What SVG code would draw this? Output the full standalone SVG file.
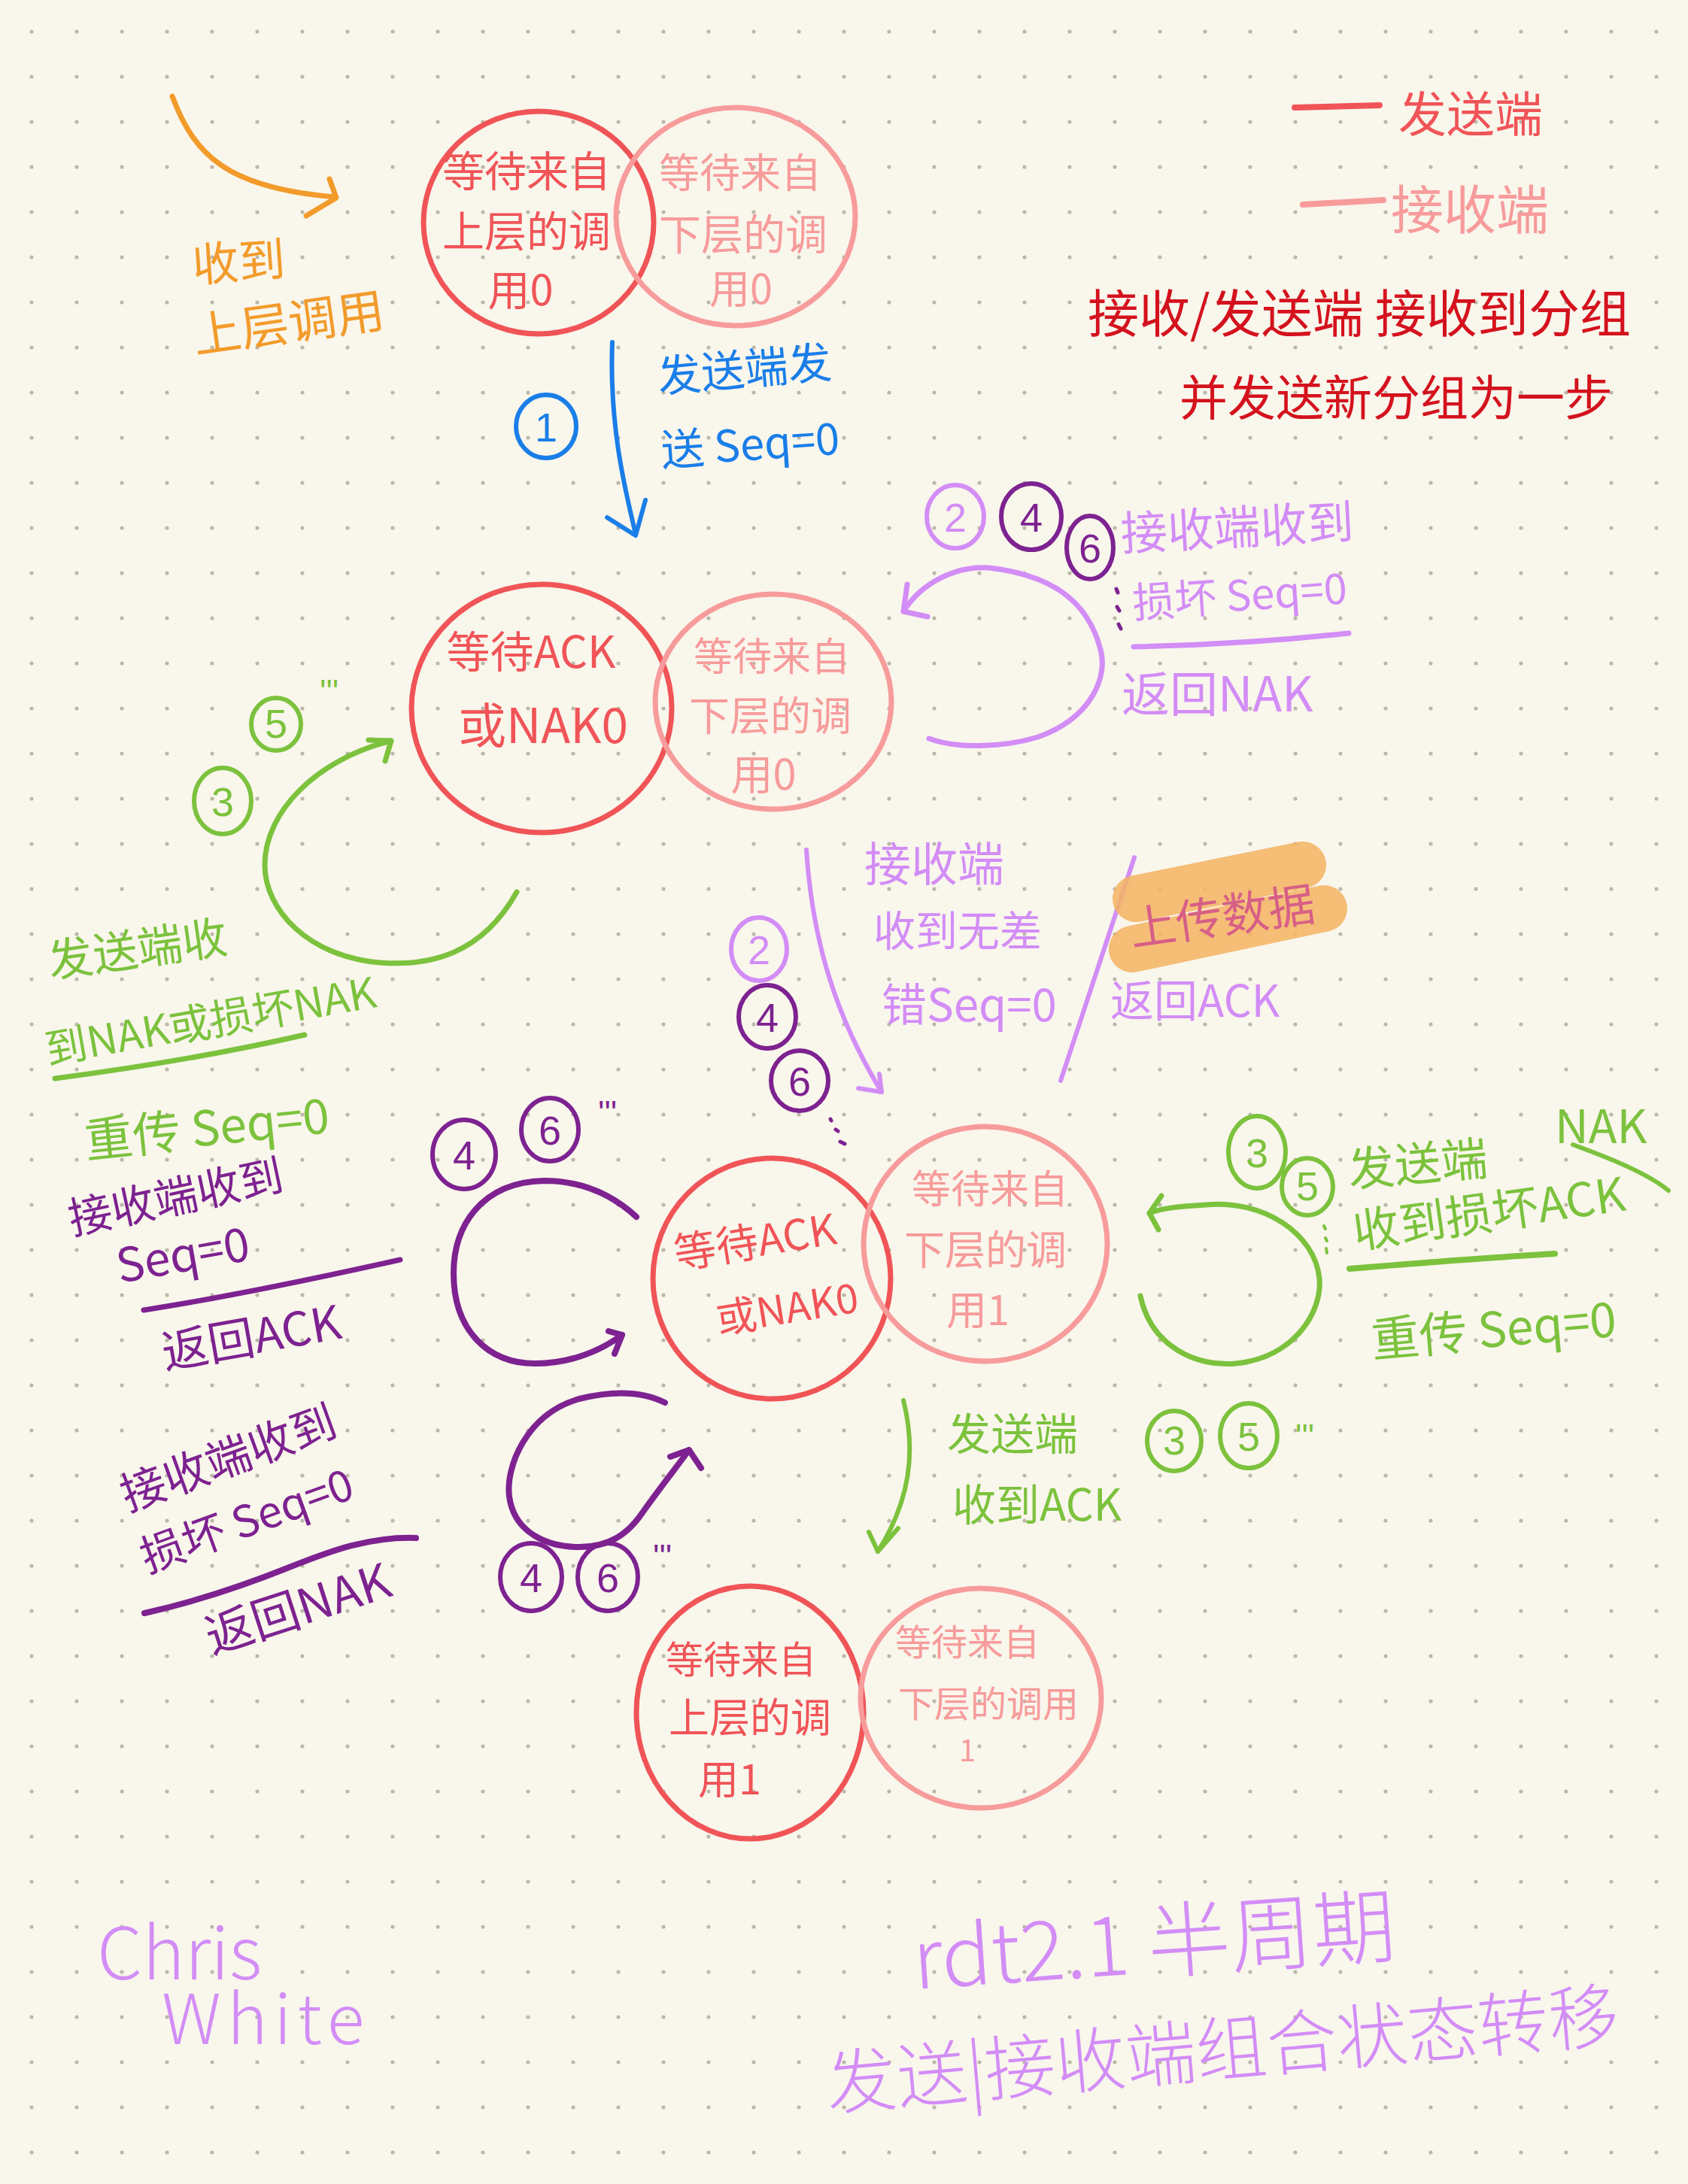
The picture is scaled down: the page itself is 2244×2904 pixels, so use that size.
<svg xmlns="http://www.w3.org/2000/svg" width="2244" height="2904" viewBox="0 0 2244 2904">
<defs>
<pattern id="dots" x="12" y="12" width="60" height="60" patternUnits="userSpaceOnUse"><circle cx="30" cy="30" r="2.6" fill="#bcb8aa"/></pattern>
</defs>
<style>
text{font-family:"Noto Sans CJK SC","Noto Sans",sans-serif;font-weight:400;}
.ln{fill:none;stroke-linecap:round;stroke-linejoin:round;}
.sc{fill:none;stroke:#f05457;stroke-width:7;}
.rc{fill:none;stroke:#f79b9b;stroke-width:7;}
.ts{fill:#f05457;}
.tr{fill:#f79b9b;}
.dr{fill:#d4121d;}
.bl{fill:#1a7ee8;}
.or{fill:#f29b2b;}
.gr{fill:#7cc23d;}
.lv{fill:#d38df6;}
.pu{fill:#7d2290;}
.c{text-anchor:middle;}
.num{font-family:"Liberation Sans",sans-serif;text-anchor:middle;font-size:54px;}
.tick{font-family:"Liberation Sans",sans-serif;font-size:44px;}
.bgrn{stroke:#7cc23d;}
.blav{stroke:#d38df6;}
.bpur{stroke:#7d2290;}
.thin{font-weight:300;}
</style>
<rect width="2244" height="2904" fill="#f9f6ec"/>
<rect width="2244" height="2904" fill="url(#dots)"/>

<!-- legend / notes -->
<g id="legend">
<path class="ln" d="M1721,143 L1834,140" stroke="#f05457" stroke-width="8"/>
<text class="ts" x="1859" y="175" font-size="64">发送端</text>
<path class="ln" d="M1732,272 L1839,266" stroke="#f79b9b" stroke-width="8"/>
<text class="tr" x="1849" y="305" font-size="70">接收端</text>
<text class="dr" x="1446" y="442" font-size="68">接收/发送端 接收到分组</text>
<text class="dr" x="1568" y="552" font-size="64">并发送新分组为一步</text>
</g>

<!-- nodes -->
<g id="node-s-wait-call-0">
<ellipse class="sc" cx="716" cy="296" rx="153" ry="148"/>
<text class="ts c" x="700" y="248" font-size="56">等待来自</text>
<text class="ts c" x="700" y="328" font-size="56">上层的调</text>
<text class="ts c" x="692" y="406" font-size="56">用0</text>
</g>
<g id="node-r-wait-below-0-a">
<ellipse class="rc" cx="978" cy="288" rx="159" ry="145"/>
<text class="tr c" x="984" y="250" font-size="54">等待来自</text>
<text class="tr c" x="988" y="332" font-size="56">下层的调</text>
<text class="tr c" x="985" y="404" font-size="54">用0</text>
</g>

<g id="node-s-wait-ack-0">
<ellipse class="sc" cx="720" cy="942" rx="173" ry="165"/>
<text class="ts c" x="706" y="888" font-size="58">等待ACK</text>
<text class="ts c" x="722" y="988" font-size="64">或NAK0</text>
</g>
<g id="node-r-wait-below-0-b">
<ellipse class="rc" cx="1028" cy="933" rx="157" ry="143"/>
<text class="tr c" x="1026" y="892" font-size="52">等待来自</text>
<text class="tr c" x="1024" y="972" font-size="54">下层的调</text>
<text class="tr c" x="1015" y="1050" font-size="56">用0</text>
</g>

<g id="node-s-wait-ack-0-b">
<ellipse class="sc" cx="1026" cy="1700" rx="158" ry="160"/>
<g transform="rotate(-9 1026 1700)">
<text class="ts c" x="1012" y="1668" font-size="56">等待ACK</text>
<text class="ts c" x="1040" y="1762" font-size="54">或NAK0</text>
</g>
</g>
<g id="node-r-wait-below-1">
<ellipse class="rc" cx="1310" cy="1654" rx="162" ry="156"/>
<text class="tr c" x="1316" y="1600" font-size="52">等待来自</text>
<text class="tr c" x="1310" y="1682" font-size="54">下层的调</text>
<text class="tr c" x="1300" y="1762" font-size="54">用1</text>
</g>

<g id="node-s-wait-call-1">
<ellipse class="sc" cx="997" cy="2277" rx="151" ry="168"/>
<text class="ts c" x="985" y="2225" font-size="50">等待来自</text>
<text class="ts c" x="997" y="2304" font-size="54">上层的调</text>
<text class="ts c" x="970" y="2386" font-size="54">用1</text>
</g>
<g id="node-r-wait-below-1-b">
<ellipse class="rc" cx="1304" cy="2258" rx="160" ry="146"/>
<text class="tr c" x="1286" y="2201" font-size="48">等待来自</text>
<text class="tr c" x="1314" y="2283" font-size="48">下层的调用</text>
<text class="tr c" x="1286" y="2342" font-size="40">1</text>
</g>

<!-- connectors -->
<g id="connectors">
<g stroke="#f29b2b" stroke-width="7" class="ln">
<path d="M229,128 C258,205 300,250 446,262"/>
<path d="M438,238 L447,263 L407,287"/>
</g>
<g stroke="#1a7ee8" stroke-width="6" class="ln">
<path d="M814,455 C810,560 828,640 845,710"/>
<path d="M807,688 L845,712 L858,665"/>
</g>
<g class="ln blav" stroke-width="7">
<path d="M1235,982 C1270,995 1330,995 1380,980 C1450,955 1475,900 1462,860 C1445,800 1400,765 1315,755 C1270,752 1225,775 1201,813"/>
<path d="M1206,777 L1201,813 L1233,820"/>
</g>
<g class="ln bgrn" stroke-width="7">
<path d="M687,1186 C640,1270 570,1285 505,1280 C410,1272 352,1210 352,1150 C352,1080 420,1010 520,985"/>
<path d="M490,984 L520,985 L512,1012"/>
</g>
<g class="ln blav" stroke-width="6">
<path d="M1072,1130 C1080,1250 1110,1350 1172,1452"/>
<path d="M1141,1447 L1172,1452 L1169,1428"/>
<path d="M1508,1140 L1410,1437"/>
</g>
<g class="ln bpur" stroke-width="8">
<path d="M846,1618 C810,1585 770,1570 723,1570 C640,1572 603,1630 603,1693 C603,1770 650,1813 711,1813 C760,1813 800,1795 827,1775"/>
<path d="M809,1770 L827,1775 L817,1800"/>
</g>
<g class="ln bgrn" stroke-width="7">
<path d="M1516,1723 C1530,1790 1590,1818 1643,1813 C1720,1805 1758,1745 1754,1700 C1748,1640 1680,1595 1603,1602 C1570,1604 1545,1606 1528,1613"/>
<path d="M1544,1590 L1528,1613 L1540,1635"/>
</g>
<g class="ln bgrn" stroke-width="6">
<path d="M1201,1862 C1218,1930 1210,1995 1167,2063"/>
<path d="M1155,2037 L1167,2063 L1194,2032"/>
</g>
<g class="ln bpur" stroke-width="8">
<path d="M884,1865 C850,1848 810,1850 770,1860 C700,1880 672,1950 677,1990 C684,2040 730,2057 770,2057 C810,2057 835,2040 855,2010 C880,1975 900,1950 916,1928"/>
<path d="M891,1937 L916,1928 L932,1952"/>
</g>
</g>

<!-- labels -->
<g id="labels">
<text class="or" x="257" y="375" font-size="62" transform="rotate(-4 257 375)">收到</text>
<text class="or" x="260" y="470" font-size="64" transform="rotate(-8 260 470)">上层调用</text>

<ellipse cx="726" cy="567" rx="40" ry="42" fill="none" stroke="#1a7ee8" stroke-width="6"/>
<text class="bl num" x="726" y="587">1</text>
<text class="bl" x="876" y="522" font-size="58" transform="rotate(-5 876 522)">发送端发</text>
<text class="bl" x="880" y="620" font-size="58" transform="rotate(-4 880 620)">送 Seq=0</text>

<ellipse cx="1270" cy="687" rx="38" ry="42" fill="none" stroke="#d38df6" stroke-width="6"/>
<text class="lv num" x="1270" y="707">2</text>
<ellipse cx="1371" cy="687" rx="40" ry="44" fill="none" stroke="#7d2290" stroke-width="6"/>
<text class="pu num" x="1371" y="707">4</text>
<ellipse cx="1449" cy="728" rx="31" ry="42" fill="none" stroke="#7d2290" stroke-width="6"/>
<text class="pu num" x="1449" y="748" font-size="50">6</text>
<text class="lv" x="1491" y="732" font-size="62" transform="rotate(-3 1491 732)">接收端收到</text>
<path class="ln bpur" stroke-width="5" d="M1484,783 L1486,788 M1485,807 L1488,812 M1487,830 L1490,836"/>
<text class="lv" x="1507" y="822" font-size="56" transform="rotate(-4 1507 822)">损坏 Seq=0</text>
<path class="ln blav" stroke-width="7" d="M1507,860 C1600,858 1700,852 1793,842"/>
<text class="lv" x="1491" y="946" font-size="64">返回NAK</text>

<ellipse cx="367" cy="963" rx="33" ry="35" fill="none" stroke="#7cc23d" stroke-width="6"/>
<text class="gr num" x="367" y="981" font-size="46">5</text>
<text class="gr tick" x="425" y="935">'''</text>
<ellipse cx="296" cy="1065" rx="38" ry="44" fill="none" stroke="#7cc23d" stroke-width="6"/>
<text class="gr num" x="296" y="1085">3</text>
<text class="gr" x="67" y="1300" font-size="60" transform="rotate(-8 67 1300)">发送端收</text>
<text class="gr" x="64" y="1416" font-size="56" transform="rotate(-10 64 1416)">到NAK或损坏NAK</text>
<path class="ln bgrn" stroke-width="7" d="M73,1434 C180,1420 300,1400 405,1376"/>
<text class="gr" x="115" y="1540" font-size="64" transform="rotate(-6 115 1540)">重传 Seq=0</text>

<text class="pu" x="96" y="1642" font-size="58" transform="rotate(-12 96 1642)">接收端收到</text>
<text class="pu" x="159" y="1706" font-size="62" transform="rotate(-10 159 1706)">Seq=0</text>
<path class="ln bpur" stroke-width="7" d="M191,1742 C300,1725 420,1700 532,1675"/>
<text class="pu c" x="338" y="1800" font-size="62" transform="rotate(-10 338 1800)">返回ACK</text>

<ellipse cx="1009" cy="1262" rx="37" ry="42" fill="none" stroke="#d38df6" stroke-width="6"/>
<text class="lv num" x="1009" y="1282">2</text>
<ellipse cx="1020" cy="1352" rx="38" ry="42" fill="none" stroke="#7d2290" stroke-width="6"/>
<text class="pu num" x="1020" y="1372">4</text>
<ellipse cx="1063" cy="1437" rx="38" ry="40" fill="none" stroke="#7d2290" stroke-width="6"/>
<text class="pu num" x="1063" y="1457">6</text>
<path class="ln bpur" stroke-width="5" d="M1104,1488 L1105,1490 M1111,1502 L1114,1504 M1117,1518 L1123,1521"/>
<text class="lv" x="1149" y="1172" font-size="62">接收端</text>
<text class="lv" x="1161" y="1258" font-size="56">收到无差</text>
<text class="lv" x="1172" y="1358" font-size="60">错Seq=0</text>
<g opacity="0.85" class="ln" stroke="#f5b462" stroke-width="62">
<path d="M1510,1195 L1732,1150"/>
<path d="M1505,1262 L1760,1208"/>
</g>
<text x="1505" y="1258" font-size="62" fill="#d75f87" transform="rotate(-8 1505 1258)">上传数据</text>
<text class="lv" x="1476" y="1352" font-size="58">返回ACK</text>

<ellipse cx="617" cy="1535" rx="42" ry="46" fill="none" stroke="#7d2290" stroke-width="6"/>
<text class="pu num" x="617" y="1555">4</text>
<ellipse cx="731" cy="1502" rx="38" ry="42" fill="none" stroke="#7d2290" stroke-width="6"/>
<text class="pu num" x="731" y="1522">6</text>
<text class="pu tick" x="795" y="1495">'''</text>

<ellipse cx="1671" cy="1532" rx="38" ry="48" fill="none" stroke="#7cc23d" stroke-width="6"/>
<text class="gr num" x="1671" y="1552">3</text>
<ellipse cx="1738" cy="1578" rx="34" ry="38" fill="none" stroke="#7cc23d" stroke-width="6"/>
<text class="gr num" x="1738" y="1596" font-size="48">5</text>
<path class="ln bgrn" stroke-width="4" d="M1760,1630 L1762,1634 M1762,1646 L1764,1650 M1763,1660 L1764,1666"/>
<text class="gr" x="1794" y="1578" font-size="62" transform="rotate(-5 1794 1578)">发送端</text>
<text class="gr" x="1802" y="1660" font-size="62" transform="rotate(-8 1802 1660)">收到损坏ACK</text>
<path class="ln bgrn" stroke-width="8" d="M1794,1687 C1880,1680 1980,1672 2067,1667"/>
<text class="gr" x="2067" y="1520" font-size="62">NAK</text>
<path class="ln bgrn" stroke-width="6" d="M2091,1522 C2140,1540 2190,1560 2218,1583"/>
<text class="gr" x="1825" y="1805" font-size="64" transform="rotate(-5 1825 1805)">重传 Seq=0</text>

<text class="gr" x="1259" y="1928" font-size="58">发送端</text>
<text class="gr" x="1266" y="2022" font-size="58">收到ACK</text>
<ellipse cx="1561" cy="1916" rx="36" ry="40" fill="none" stroke="#7cc23d" stroke-width="6"/>
<text class="gr num" x="1561" y="1934" font-size="48">3</text>
<ellipse cx="1660" cy="1909" rx="38" ry="43" fill="none" stroke="#7cc23d" stroke-width="6"/>
<text class="gr num" x="1660" y="1929">5</text>
<text class="gr tick" x="1722" y="1925">'''</text>

<text class="pu" x="170" y="2010" font-size="60" transform="rotate(-20 170 2010)">接收端收到</text>
<text class="pu" x="196" y="2092" font-size="58" transform="rotate(-20 196 2092)">损坏 Seq=0</text>
<path class="ln bpur" stroke-width="8" d="M192,2145 C250,2132 320,2110 387,2083 C440,2062 490,2043 553,2045"/>
<text class="pu" x="282" y="2200" font-size="64" transform="rotate(-18 282 2200)">返回NAK</text>
<ellipse cx="706" cy="2097" rx="41" ry="45" fill="none" stroke="#7d2290" stroke-width="6"/>
<text class="pu num" x="706" y="2117">4</text>
<ellipse cx="808" cy="2097" rx="40" ry="45" fill="none" stroke="#7d2290" stroke-width="6"/>
<text class="pu num" x="808" y="2117">6</text>
<text class="pu tick" x="868" y="2085">'''</text>

<text class="lv thin" x="129" y="2632" font-size="96" font-family="Noto Sans, sans-serif">Chris</text>
<text class="lv thin" x="215" y="2718" font-size="92" letter-spacing="8" font-family="Noto Sans, sans-serif">White</text>
<text class="lv thin" x="1216" y="2645" font-size="110" transform="rotate(-4 1216 2645)">rdt2.1 半周期</text>
<text class="lv thin" x="1101" y="2805" font-size="94" transform="rotate(-5 1101 2805)">发送|接收端组合状态转移</text>
</g>
</svg>
